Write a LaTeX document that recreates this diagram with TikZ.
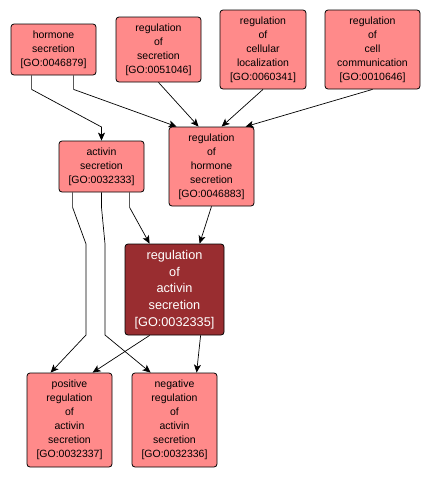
\documentclass[tikz,border=0pt]{standalone}
\usepackage{fontspec}
\setmainfont{Liberation Sans}
\usetikzlibrary{arrows.meta,calc}
\definecolor{gofill}{RGB}{255,138,138}
\definecolor{godark}{RGB}{153,45,48}
\tikzset{
  goterm/.style={draw=black, line width=0.8pt, fill=gofill, rounded corners=3pt, inner sep=0pt, align=center,
     font=\fontsize{10.5}{14}\selectfont, text=black},
  gomain/.style={goterm, fill=godark, text=white, font=\fontsize{12.7}{16.7}\selectfont},
  golink/.style={draw=black, line width=0.7pt, -{Stealth[length=8pt,width=7pt,inset=2pt]}}
}
\begin{document}
\begin{tikzpicture}[x=1pt,y=-1pt]
\useasboundingbox (0,0) rectangle (430,477);
\node[goterm, minimum width=85pt, minimum height=51pt] (hs) at (53.5,49.5) {hormone\\secretion\\{[GO:0046879]}};
\node[goterm, minimum width=85pt, minimum height=65pt] (rs) at (158.5,49.5) {regulation\\of\\secretion\\{[GO:0051046]}};
\node[goterm, minimum width=86pt, minimum height=79pt] (rcl) at (263,49.5) {regulation\\of\\cellular\\localization\\{[GO:0060341]}};
\node[goterm, minimum width=95pt, minimum height=79pt] (rcc) at (372.5,49.5) {regulation\\of\\cell\\communication\\{[GO:0010646]}};
\node[goterm, minimum width=85pt, minimum height=51pt] (as) at (101.5,166.5) {activin\\secretion\\{[GO:0032333]}};
\node[goterm, minimum width=85pt, minimum height=79pt] (rhs) at (211.5,166.5) {regulation\\of\\hormone\\secretion\\{[GO:0046883]}};
\node[gomain, minimum width=99pt, minimum height=91pt] (ras) at (174.5,289.5) {regulation\\of\\activin\\secretion\\{[GO:0032335]}};
\node[goterm, minimum width=85pt, minimum height=94pt] (pos) at (69.5,420) {positive\\regulation\\of\\activin\\secretion\\{[GO:0032337]}};
\node[goterm, minimum width=85pt, minimum height=94pt] (neg) at (174.5,420) {negative\\regulation\\of\\activin\\secretion\\{[GO:0032336]}};
% connectors
\draw[golink] ([xshift=21pt]hs.south west) -- ++(0,14) -- (101.5,127) -- (as.north);
\draw[golink] ([xshift=63pt]hs.south west) -- ++(0,14) -- ([xshift=8pt]rhs.north west);
\draw[golink] (rs.south) -- ([xshift=30pt]rhs.north west);
\draw[golink] (rcl.south) -- ([xshift=53pt]rhs.north west);
\draw[golink] (rcc.south) -- ([xshift=77pt]rhs.north west);
\draw[golink] ([xshift=14pt]as.south west) -- ++(0,15) -- (86,244) -- (86,335) -- ([xshift=24pt]pos.north west);
\draw[golink] (as.south) -- ++(0,15) -- (105,244) -- (105,335) -- ([xshift=19pt]neg.north west);
\draw[golink] ([xshift=71pt]as.south west) -- ++(0,15) -- ([xshift=25pt]ras.north west);
\draw[golink] (rhs.south) -- ([xshift=75pt]ras.north west);
\draw[golink] ([xshift=25pt]ras.south west) -- ([xshift=66pt]pos.north west);
\draw[golink] ([xshift=76pt]ras.south west) -- ([xshift=65pt]neg.north west);
\end{tikzpicture}
\end{document}
